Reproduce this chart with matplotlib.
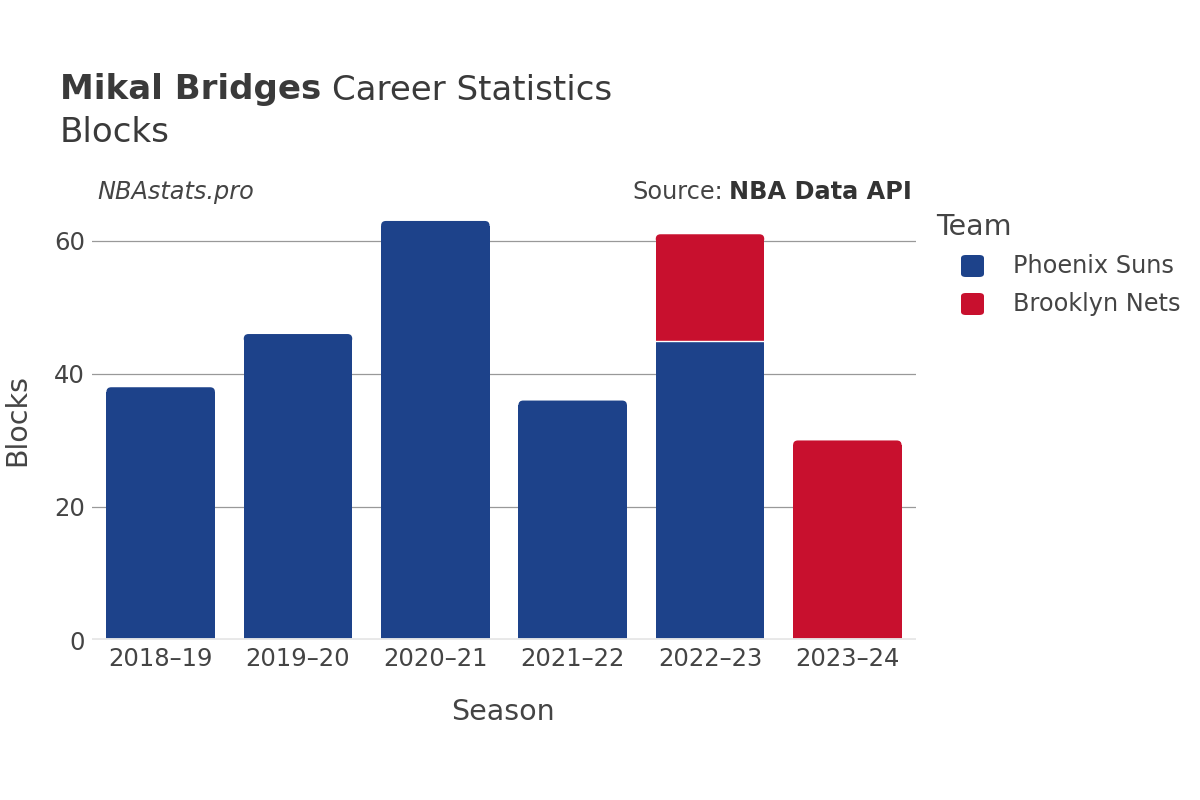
import matplotlib.pyplot as plt
from matplotlib.patches import FancyBboxPatch
import numpy as np

plt.rcParams['font.family'] = ['DejaVu Sans']

seasons = ['2018–19', '2019–20', '2020–21', '2021–22', '2022–23', '2023–24']
suns_blocks = [38, 46, 63, 36, 45, 0]
nets_blocks = [0, 0, 0, 0, 16, 30]
teams = ['Phoenix Suns', 'Brooklyn Nets']
team_colors = ['#1D428A', '#C8102E']
y_ticks = [0, 20, 40, 60]

W, H = 1200, 800
fig = plt.figure(figsize=(12, 8), dpi=100)
# axes placed in pixel coords: x 92..916, y 201..640
ax = fig.add_axes([92 / W, 1 - 640 / H, (916 - 92) / W, (640 - 201) / H])

x = np.arange(len(seasons))
b1 = ax.bar(x, suns_blocks, width=0.79, color=team_colors[0], edgecolor='none', zorder=3)
b2 = ax.bar(x, nets_blocks, width=0.79, bottom=suns_blocks, color=team_colors[1],
            edgecolor='none', zorder=3)

# round the top corners of the top-most segment in each stack
rx, ry = 0.035, 0.7
for i in range(len(seasons)):
    top = b2[i] if nets_blocks[i] > 0 else b1[i]
    px, py, pw, ph = top.get_x(), top.get_y(), top.get_width(), top.get_height()
    top.set_height(ph - ry)
    ax.add_patch(FancyBboxPatch((px, py + ph - 2 * ry), pw, 2 * ry,
                                boxstyle=f'round,pad=0,rounding_size={rx}',
                                mutation_aspect=ry / rx, facecolor=top.get_facecolor(),
                                edgecolor='none', zorder=3))
# thin white seam between stacked segments
for i in range(len(seasons)):
    if suns_blocks[i] > 0 and nets_blocks[i] > 0:
        ax.plot([i - 0.395, i + 0.395], [suns_blocks[i]] * 2, color='white', lw=1, zorder=4)

ax.set_xlim(-0.5, len(seasons) - 0.5)
ax.set_ylim(0, 66)
ax.set_yticks(y_ticks)
ax.set_xticks(x)
ax.set_xticklabels(seasons)
ax.tick_params(axis='both', length=0, labelsize=17.5, labelcolor='#444444')
ax.tick_params(axis='x', pad=5)
ax.tick_params(axis='y', pad=5)
ax.grid(axis='y', color='#999999', linewidth=0.9, zorder=0)
for s in ax.spines.values():
    s.set_visible(False)
ax.axhline(0, color='#E8E8E8', linewidth=3.5, zorder=4)

fig.text(503 / W, 1 - 712 / H, 'Season', fontsize=20.5, color='#444444', ha='center', va='center')
fig.text(17 / W, 1 - 420 / H, 'Blocks', fontsize=20.5, color='#444444', rotation=90,
         ha='center', va='center')

# title
t = fig.text(60 / W, 1 - 90 / H, 'Mikal Bridges', fontsize=24.5, fontweight='bold',
             color='#3a3a3a', ha='left', va='center')
fig.canvas.draw()
bb = t.get_window_extent()
fig.text(bb.x1 / W + 0.009, 1 - 90 / H, 'Career Statistics', fontsize=24.5, color='#3a3a3a',
         ha='left', va='center')
fig.text(60 / W, 1 - 133 / H, 'Blocks', fontsize=24.5, color='#3a3a3a', ha='left', va='center')

fig.text(97 / W, 1 - 192 / H, 'NBAstats.pro', fontsize=17.3, style='italic', color='#444444',
         ha='left', va='center')
s2 = fig.text(912 / W, 1 - 192 / H, 'NBA Data API', fontsize=17.3, fontweight='bold',
              color='#333333', ha='right', va='center')
fig.canvas.draw()
bb2 = s2.get_window_extent()
fig.text(bb2.x0 / W - 0.005, 1 - 192 / H, 'Source:', fontsize=17.3, color='#444444',
         ha='right', va='center')

# legend
fig.text(936 / W, 1 - 227 / H, 'Team', fontsize=20.5, color='#444444', ha='left', va='center')
for i, (name, col) in enumerate(zip(teams, team_colors)):
    yy = 1 - (266 + 38 * i) / H
    fig.patches.append(FancyBboxPatch(
        (961 / W, yy - 11 / H), 23 / W, 22 / H,
        boxstyle='round,pad=0,rounding_size=0.004', transform=fig.transFigure,
        facecolor=col, edgecolor='none'))
    fig.text(1013 / W, yy, name, fontsize=17.3, color='#444444', ha='left', va='center')

fig.savefig('out.png', dpi=100)
